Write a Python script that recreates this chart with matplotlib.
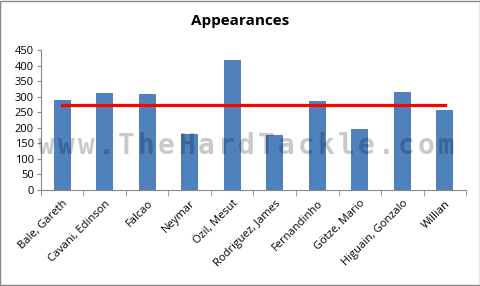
import numpy as np
import matplotlib.pyplot as plt
from matplotlib.patches import Rectangle

# Data
players = ['Bale, Gareth', 'Cavani, Edinson', 'Falcao', 'Neymar', 'Özil, Mesut',
           'Rodriguez, James', 'Fernandinho', 'Götze, Mario', 'Higuain, Gonzalo', 'Willian']
appearances = [290, 311, 307, 181, 418, 177, 286, 196, 315, 257]
avg_line = [np.mean(appearances)] * len(players)
watermark = 'www.TheHardTackle.com'

plt.rcParams['font.family'] = ['Open Sans', 'DejaVu Sans']

fig = plt.figure(figsize=(4.81, 2.86), dpi=100)
ax = fig.add_axes([0.085, 0.336, 0.884, 0.489])

x = np.arange(len(players))
ax.bar(x, appearances, width=0.4, color='#4F81BD', zorder=2)
ax.plot(x, avg_line, color='#FF0000', linewidth=2.3, zorder=3)

ax.set_xlim(-0.5, len(players) - 0.5)
ax.set_ylim(0, 450)
ax.set_yticks(range(0, 451, 50))
ax.tick_params(axis='y', labelsize=8, length=3, pad=2)

# category labels under bars, ticks on category boundaries
ax.set_xticks(x)
ax.set_xticklabels(players, rotation=45, ha='right', rotation_mode='anchor', fontsize=8)
ax.tick_params(axis='x', length=0, pad=6)
ax.set_xticks(np.arange(-0.5, len(players)), minor=True)
ax.tick_params(axis='x', which='minor', length=4, color='#888888')

for s in ['top', 'right']:
    ax.spines[s].set_visible(False)
for s in ['left', 'bottom']:
    ax.spines[s].set_color('#888888')
ax.tick_params(axis='y', color='#888888')

fig.text(0.5, 0.925, 'Appearances', ha='center', va='center', fontsize=11, fontweight='bold')

# watermark, letter-spaced
centers = np.linspace(46, 446, len(watermark)) / 481
for cx, ch in zip(centers, watermark):
    fig.text(cx, 0.4615, ch, ha='center', va='baseline', fontsize=20,
             fontweight='bold', family='DejaVu Sans Mono',
             color='black', alpha=0.21, zorder=5)

fig.patches.append(Rectangle((0.001, 0.002), 0.997, 0.995, transform=fig.transFigure,
                             fill=False, edgecolor='#888888', linewidth=1))

fig.savefig('out.png', dpi=100)
